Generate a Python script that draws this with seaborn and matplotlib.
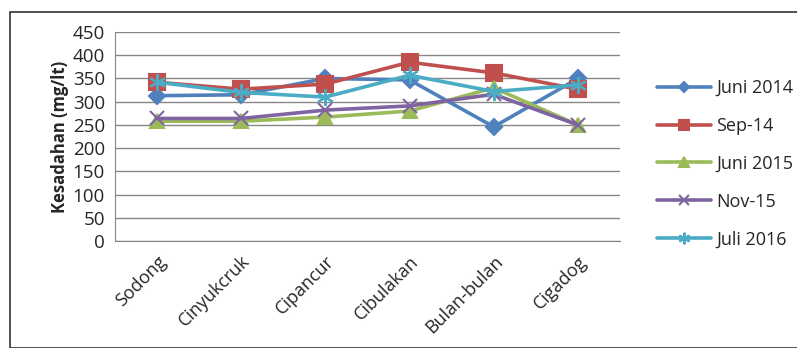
import pandas as pd
import numpy as np
import seaborn as sns
import matplotlib.pyplot as plt

# data
lokasi = ['Sodong', 'Cinyukcruk', 'Cipancur', 'Cibulakan', 'Bulan-bulan', 'Cigadog']
juni_2014 = [313, 315, 350, 347, 246, 350]
sep_14 = [342, 327, 338, 385, 362, 327]
juni_2015 = [258, 258, 267, 280, 330, 250]
nov_15 = [264, 264, 282, 291, 316, 250]
juli_2016 = [342, 320, 310, 357, 322, 336]
seri = ['Juni 2014', 'Sep-14', 'Juni 2015', 'Nov-15', 'Juli 2016']

df = pd.DataFrame({'Juni 2014': juni_2014, 'Sep-14': sep_14, 'Juni 2015': juni_2015,
                   'Nov-15': nov_15, 'Juli 2016': juli_2016}, index=lokasi)
df = df.reset_index().melt(id_vars='index', var_name='seri', value_name='kesadahan')
df = df.rename(columns={'index': 'lokasi'})

sns.set_style('white')
plt.rcParams['font.family'] = ['Open Sans', 'DejaVu Sans']

warna = ['#4F81BD', '#C0504D', '#9BBB59', '#8064A2', '#4BACC6']
marker = {'Juni 2014': 'D', 'Sep-14': 's', 'Juni 2015': '^', 'Nov-15': 'x', 'Juli 2016': (6, 2, 0)}
ukuran = {'Juni 2014': 8, 'Sep-14': 11, 'Juni 2015': 10, 'Nov-15': 10, 'Juli 2016': 12}

fig = plt.figure(figsize=(7.97, 3.48), dpi=100)
ax = fig.add_axes([0.144, 0.307, 0.634, 0.601])

for i, s in enumerate(seri):
    d = df[df['seri'] == s]
    sns.lineplot(data=d, x='lokasi', y='kesadahan', ax=ax, color=warna[i], lw=2.6,
                 marker=marker[s], markersize=ukuran[s], markeredgewidth=1.5,
                 markeredgecolor=warna[i], label=s, sort=False)

ax.set_ylim(0, 450)
ax.set_yticks(np.arange(0, 451, 50))
ax.set_xlim(-0.5, len(lokasi) - 0.5)
ax.set_xticks(np.arange(-0.5, len(lokasi), 1), minor=False)
ax.set_xticklabels([])
ax.set_xticks(np.arange(len(lokasi)), minor=True)
ax.set_xticklabels(lokasi, minor=True, rotation=45, ha='right', rotation_mode='anchor', fontsize=13)
ax.tick_params(axis='x', which='minor', length=0, pad=8)
ax.tick_params(axis='x', which='major', length=5, color='#868686', direction='out')
ax.tick_params(axis='y', length=5, color='#868686', labelsize=13.5, pad=2)
ax.yaxis.grid(True, color='#868686', lw=1)
for k in ['top', 'right']:
    ax.spines[k].set_visible(False)
ax.spines['left'].set_color('#868686')
ax.spines['bottom'].set_color('#868686')
ax.set_xlabel('')
ax.set_ylabel('Kesadahan (mg/lt)', fontsize=12, fontweight='bold', labelpad=3)

ax.legend(loc='center left', bbox_to_anchor=(1.04, 0.37), frameon=False, fontsize=13,
          labelspacing=1.1, handlelength=3.0, handletextpad=0.3, markerscale=0.7)

fig.patches.append(plt.Rectangle((0.012, 0.0), 0.99, 0.965, transform=fig.transFigure,
                                 fill=False, edgecolor='#333333', lw=1.2))
fig.savefig('out.png', dpi=100)
